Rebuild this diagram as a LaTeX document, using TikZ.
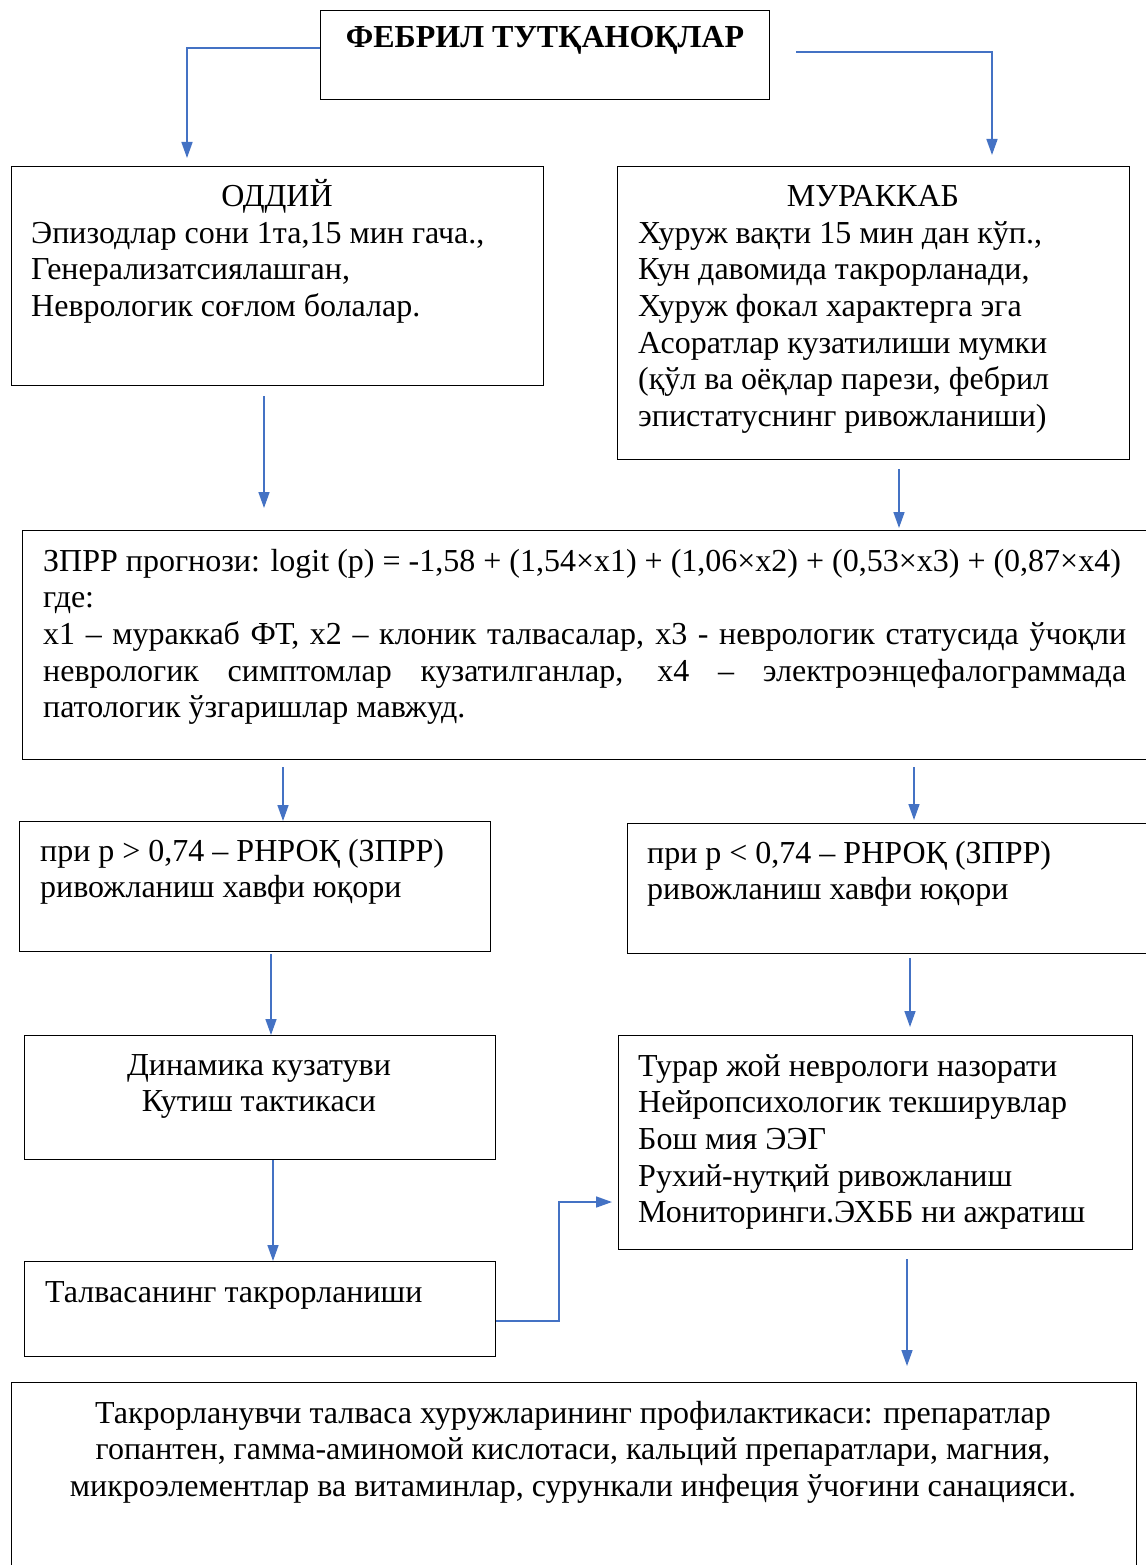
\documentclass[tikz,border=0pt]{standalone}
\usepackage{fontspec}
\setmainfont{Liberation Serif}
\usetikzlibrary{arrows.meta}
\definecolor{arrowblue}{RGB}{68,114,196}

\begin{document}
\begin{tikzpicture}[x=1pt,y=-1pt,
  box/.style={draw=black,line width=1.1pt,anchor=north west,inner sep=0pt},
  txt/.style={anchor=north west,inner sep=0pt,align=left,font=\fontsize{32}{36.6}\selectfont},
  ctxt/.style={anchor=north,inner sep=0pt,align=center,font=\fontsize{32}{36.6}\selectfont},
  hd/.style={anchor=base,inner sep=0pt,font=\fontsize{32}{36.6}\selectfont},
  arr/.style={draw=arrowblue,line width=1.6pt,-{Triangle[length=16pt,width=11pt]}}]
\useasboundingbox (0,0) rectangle (1145,1565);
\node[box,minimum width=449,minimum height=89] (title) at (320,10) {};
\node[box,minimum width=532,minimum height=219] (oddiy) at (11,166) {};
\node[box,minimum width=512,minimum height=293] (murakkab) at (617,166) {};
\node[box,minimum width=1130,minimum height=229] (zprr) at (22,530) {};
\node[box,minimum width=471,minimum height=130] (pgt) at (19,821) {};
\node[box,minimum width=530,minimum height=130] (plt) at (627,823) {};
\node[box,minimum width=471,minimum height=124] (dinamika) at (24,1035) {};
\node[box,minimum width=514,minimum height=214] (turar) at (618,1035) {};
\node[box,minimum width=471,minimum height=95] (talvasa) at (24,1261) {};
\node[box,minimum width=1125,minimum height=220] (profil) at (11,1382) {};

\node[anchor=base,inner sep=0pt,font=\fontsize{32}{36}\selectfont\bfseries] (titlet) at (545,48) {ФЕБРИЛ ТУТҚАНОҚЛАР};
\node[hd] (oddiyh) at (277,206) {ОДДИЙ};
\node[txt] (oddiyt) at (31,213) {\rule{0pt}{30pt}Эпизодлар сони 1та,15 мин гача.,\\
Генерализатсиялашган,\\
Неврологик соғлом болалар.};
\node[hd] (murakkabh) at (873,206) {МУРАККАБ};
\node[txt] (murakkabt) at (638,213) {\rule{0pt}{30pt}Хуруж вақти 15 мин дан кўп.,\\
Кун давомида такрорланади,\\
Хуруж фокал характерга эга\\
Асоратлар кузатилиши мумки\\
(қўл ва оёқлар парези, фебрил\\
эпистатуснинг ривожланиши)};
\node[txt] (zprrt) at (43,541) {\rule{0pt}{30pt}ЗПРР прогнози: logit (p) = -1,58 + (1,54×x1) + (1,06×x2) + (0,53×x3) + (0,87×x4)\\
где:\\
\hbox to 1083pt{x1 – мураккаб ФТ, x2 – клоник талвасалар, x3 - неврологик статусида ўчоқли}\\
\hbox to 1083pt{неврологик симптомлар кузатилганлар, x4 – электроэнцефалограммада}\\
патологик ўзгаришлар мавжуд.};
\node[txt] (pgtt) at (40,831) {\rule{0pt}{30pt}при p > 0,74 – РНРОҚ (ЗПРР)\\
ривожланиш хавфи юқори};
\node[txt] (pltt) at (647,833) {\rule{0pt}{30pt}при p < 0,74 – РНРОҚ (ЗПРР)\\
ривожланиш хавфи юқори};
\node[ctxt] (dinamikat) at (259,1045) {\rule{0pt}{30pt}Динамика кузатуви\\
Кутиш тактикаси};
\node[txt] (turart) at (638,1046) {\rule{0pt}{30pt}Турар жой неврологи назорати\\
Нейропсихологик текширувлар\\
Бош мия ЭЭГ\\
Рухий-нутқий ривожланиш\\
Мониторинги.ЭХББ ни ажратиш};
\node[txt] (talvasat) at (45,1272) {\rule{0pt}{30pt}Талвасанинг такрорланиши};
\node[ctxt] (profilt) at (573,1393) {\rule{0pt}{30pt}Такрорланувчи талваса хуружларининг профилактикаси: препаратлар\\
гопантен, гамма-аминомой кислотаси, кальций препаратлари, магния,\\
микроэлементлар ва витаминлар, сурункали инфеция ўчоғини санацияси.};

\draw[arr,shorten >=8pt] (title.west |- 0,48) -| (oddiy.north -| 187,0);
\draw[arr,shorten <=26pt,shorten >=11pt] (title.east |- 0,52) -| (murakkab.north -| 992,0);
\draw[arr,shorten <=10pt,shorten >=22pt] (oddiy.south -| 264,0) -- (zprr.north -| 264,0);
\draw[arr,shorten <=9pt,shorten >=2pt] (murakkab.south -| 899,0) -- (zprr.north -| 899,0);
\draw[arr,shorten <=7pt] (zprr.south -| 283,0) -- (pgt.north -| 283,0);
\draw[arr,shorten <=7pt,shorten >=3pt] (zprr.south -| 914,0) -- (plt.north -| 914,0);
\draw[arr,shorten <=2pt] (pgt.south -| 271,0) -- (dinamika.north -| 271,0);
\draw[arr,shorten <=4pt,shorten >=8pt] (plt.south -| 910,0) -- (turar.north -| 910,0);
\draw[arr] (dinamika.south -| 273,0) -- (talvasa.north -| 273,0);
\draw[arr,shorten >=6pt] (talvasa.east |- 0,1321) -- ++(63,0) |- (turar.west |- 0,1202);
\draw[arr,shorten <=9pt,shorten >=16pt] (turar.south -| 907,0) -- (profil.north -| 907,0);
\end{tikzpicture}
\end{document}
